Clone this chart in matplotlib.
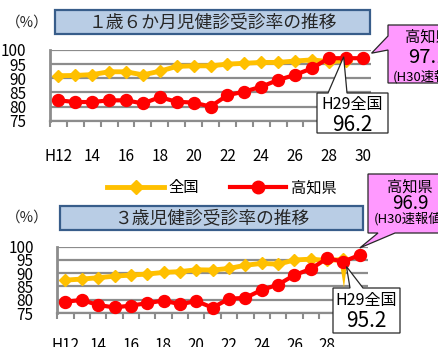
import matplotlib
matplotlib.use("Agg")
import matplotlib.pyplot as plt
from matplotlib.patches import Polygon
from matplotlib.lines import Line2D

plt.rcParams['font.family'] = ['Noto Sans CJK JP', 'DejaVu Sans']

# ---------------- data ----------------
years = ["H12", "H13", "H14", "H15", "H16", "H17", "H18", "H19", "H20", "H21",
         "H22", "H23", "H24", "H25", "H26", "H27", "H28", "H29", "H30"]
tick_labels_top = ["H12", "14", "16", "18", "20", "22", "24", "26", "28", "30"]
tick_labels_bottom = ["H12", "14", "16", "18", "20", "22", "24", "26", "28"]

# 1歳6か月児健診受診率
national_18m = [90.9, 91.0, 91.3, 92.3, 92.3, 91.2, 92.5, 94.2, 94.4, 94.4,
                95.0, 95.3, 95.6, 95.6, 96.1, 96.5, 95.9, 96.2]
kochi_18m = [82.2, 81.6, 81.6, 82.2, 82.2, 81.1, 83.3, 81.7, 81.4, 80.0,
             84.0, 85.3, 87.0, 89.4, 91.2, 93.5, 97.1, 97.1, 97.1]

# 3歳児健診受診率
national_3y = [87.4, 87.8, 88.3, 88.9, 89.3, 89.7, 90.3, 90.6, 91.3, 91.2,
               91.8, 93.0, 93.7, 93.4, 95.0, 95.3, 94.8, 95.2]
kochi_3y = [79.3, 79.9, 78.0, 77.1, 77.8, 78.7, 79.7, 78.3, 79.5, 77.0,
            80.4, 80.7, 83.7, 85.7, 89.3, 91.6, 95.6, 94.4, 96.9]

yticks = [75, 80, 85, 90, 95, 100]

YELLOW = "#FFC000"
RED = "#FF0000"
GRID = "#8C8C8C"

W, H = 438, 347
fig = plt.figure(figsize=(W / 100, H / 100), dpi=100)


def fx(x, y):
    return (x / W, 1 - y / H)


def make_axes(left, top, right, bottom, nat, koc, labels, label_pad):
    ax = fig.add_axes([left / W, 1 - bottom / H, (right - left) / W, (bottom - top) / H])
    xs = list(range(len(years)))
    ax.set_xlim(-0.5, len(years) - 0.5)
    ax.set_ylim(75, 100)
    ax.plot(xs[:len(nat)], nat, color=YELLOW, lw=3.5, marker="D", ms=6.6,
            mec=YELLOW, mfc=YELLOW, zorder=3, clip_on=False, label="全国")
    ax.plot(xs[:len(koc)], koc, color=RED, lw=3.0, marker="o", ms=8.6,
            mec=RED, mfc=RED, zorder=4, clip_on=False, label="高知県")
    ax.set_yticks(yticks)
    ax.set_yticklabels([str(v) for v in yticks])
    ax.tick_params(axis="y", length=0, pad=17, labelsize=11)
    ax.set_xticks(list(range(0, 2 * len(labels), 2)))
    ax.set_xticklabels(labels)
    ax.tick_params(axis="x", which="major", length=0, pad=label_pad, labelsize=11)
    ax.set_xticks([i - 0.5 for i in range(len(years) + 1)], minor=True)
    ax.tick_params(axis="x", which="minor", length=4.2, width=1.5, color=GRID)
    ax.grid(axis="y", color=GRID, lw=1.6, zorder=1)
    ax.set_axisbelow(True)
    for s in ["top", "right"]:
        ax.spines[s].set_visible(False)
    ax.spines["left"].set_color(GRID)
    ax.spines["left"].set_linewidth(2.0)
    ax.spines["bottom"].set_color(GRID)
    ax.spines["bottom"].set_linewidth(1.6)
    return ax


ax1 = make_axes(50, 50, 371, 120.7, national_18m, kochi_18m, tick_labels_top, 20)
ax2 = make_axes(57.3, 246.7, 368, 313, national_3y, kochi_3y, tick_labels_bottom, 17)


def data_px(ax, i, v):
    x, y = ax.transData.transform((i, v))
    return x, H - y


def poly(pts, fc, ec, lw=0.9, z=5, ax=None):
    p = Polygon([fx(*p) for p in pts], closed=True, facecolor=fc, edgecolor=ec,
                lw=lw, transform=fig.transFigure, zorder=z, clip_on=False)
    if ax is None:
        fig.patches.append(p)
    else:
        ax.add_artist(p)
    return p


def ftext(x, y, s, size, **kw):
    fig.text(x / W, 1 - y / H, s, fontsize=size, ha="center", va="center",
             zorder=10, **kw)


# title boxes
for (l, t, r, b, s) in [(55, 10, 370, 34, "１歳６か月児健診受診率の推移"),
                        (60, 206, 363, 230, "３歳児健診受診率の推移")]:
    poly([(l, t), (r, t), (r, b), (l, b)], "#B9CDE5", "#385D8A", lw=1.6, z=2)
    ftext((l + r) / 2, (t + b) / 2 + 0.5, s, 12.8, color="#262626")

ftext(27, 23, "（%）", 10.5, color="#262626")
ftext(27, 218, "（%）", 10.5, color="#262626")

# legend
handles = [Line2D([], [], color=YELLOW, lw=3.5, marker="D", ms=7.5, mec=YELLOW),
           Line2D([], [], color=RED, lw=3.0, marker="o", ms=9, mec=RED)]
fig.legend(handles, ["全国", "高知県"], loc="center", bbox_to_anchor=fx(222, 188),
           ncol=2, frameon=False, fontsize=11, handlelength=3.7, handletextpad=0.3,
           columnspacing=2.0, borderpad=0)

# callouts - top chart
tx, ty = data_px(ax1, 18, kochi_18m[18])
tip = (tx + 9, ty - 5)
poly([(388, 25), (470, 25), (470, 83), (388, 83), (388, 50), tip, (388, 36)],
     "#FF99FF", "#262626", z=6)
ftext(428, 37, "高知県", 11)
ftext(428, 57.5, "97.1", 14.5)
ftext(429, 77, "(H30速報値)", 9.5)

tx, ty = data_px(ax1, 17, national_18m[17])
tip = (tx - 2, ty - 4)
poly([(317, 93), (328, 93), tip, (347, 93), (388, 93), (388, 133), (317, 133)],
     "white", "#262626", z=6)
ftext(352.5, 105, "H29全国", 11.5)
ftext(352.5, 125, "96.2", 15)

# callouts - bottom chart
tx, ty = data_px(ax2, 18, kochi_3y[18])
tip = (tx, ty - 7)
poly([(368, 174), (454, 174), (454, 233), (395, 233), tip, (378, 233), (368, 233)],
     "#FF99FF", "#262626", z=6)
ftext(410, 187.5, "高知県", 11)
ftext(410, 203.5, "96.9", 13.5)
ftext(410, 219, "(H30速報値)", 9.5)

tx, ty = data_px(ax2, 17, national_3y[17])
poly([(tx - 3.5, ty + 4), (tx + 3.5, ty + 4), (tx + 0.5, 288)], YELLOW, "none", lw=0, z=2.5, ax=ax2)

tx, ty = data_px(ax2, 17, kochi_3y[17])
tip = (tx + 3, ty + 5)
poly([(333, 288), (350, 288), tip, (363, 288), (400, 288), (400, 333), (333, 333)],
     "white", "#262626", z=6)
ftext(366.5, 300, "H29全国", 11.5)
ftext(366.5, 321, "95.2", 15)

fig.savefig("out.png", dpi=100)
